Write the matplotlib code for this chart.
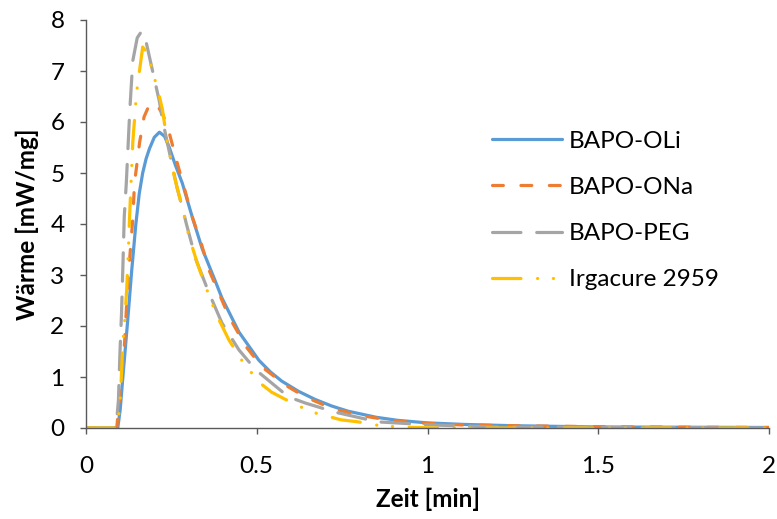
import matplotlib
matplotlib.use("Agg")
import matplotlib.pyplot as plt

# ---- data ----
labels = ["BAPO-OLi", "BAPO-ONa", "BAPO-PEG", "Irgacure 2959"]

oli_x = [0, 0.093, 0.100, 0.108, 0.122, 0.134, 0.146, 0.156, 0.166, 0.176, 0.186, 0.200,
         0.215, 0.230, 0.244, 0.262, 0.282, 0.311, 0.340, 0.381, 0.398, 0.448, 0.506,
         0.540, 0.573, 0.622, 0.671, 0.720, 0.767, 0.850, 0.913, 1.000, 1.107, 1.250,
         1.500, 2.000]
oli_y = [0, 0, 0.35, 1.0, 2.1, 3.1, 4.0, 4.6, 5.0, 5.28, 5.48, 5.70,
         5.80, 5.72, 5.50, 5.15, 4.80, 4.14, 3.52, 2.84, 2.55, 1.88, 1.33,
         1.10, 0.92, 0.72, 0.56, 0.43, 0.33, 0.21, 0.15, 0.10, 0.07, 0.045,
         0.02, 0.01]

ona_x = [0, 0.090, 0.100, 0.113, 0.122, 0.130, 0.137, 0.142, 0.157, 0.170, 0.185, 0.197,
         0.206, 0.225, 0.244, 0.267, 0.288, 0.311, 0.337, 0.360, 0.419, 0.468, 0.515,
         0.584, 0.642, 0.718, 0.800, 0.900, 1.000, 1.100, 1.300, 1.600, 2.000]
ona_y = [0, 0, 0.7, 1.67, 2.8, 3.5, 4.1, 4.8, 5.6, 6.1, 6.33, 6.38,
         6.35, 6.15, 5.78, 5.20, 4.70, 4.14, 3.63, 3.10, 2.18, 1.60, 1.20,
         0.84, 0.61, 0.39, 0.25, 0.14, 0.09, 0.06, 0.04, 0.02, 0.01]

peg_x = [0, 0.088, 0.095, 0.099, 0.104, 0.108, 0.112, 0.118, 0.128, 0.137, 0.150, 0.163,
         0.175, 0.186, 0.200, 0.215, 0.224, 0.238, 0.267, 0.282, 0.294, 0.322, 0.360,
         0.398, 0.448, 0.497, 0.593, 0.642, 0.730, 0.855, 1.010, 1.200, 1.500, 2.000]
peg_y = [0, 0, 0.55, 1.4, 2.25, 3.16, 4.14, 4.8, 6.2, 7.2, 7.65, 7.78,
         7.60, 7.27, 6.85, 6.40, 6.04, 5.60, 4.70, 4.33, 4.00, 3.30, 2.65,
         2.06, 1.53, 1.14, 0.61, 0.49, 0.31, 0.12, 0.06, 0.02, 0.01, 0.0]

irg_x = [0, 0.090, 0.099, 0.104, 0.108, 0.113, 0.119, 0.123, 0.128, 0.137, 0.148, 0.166,
         0.180, 0.195, 0.215, 0.224, 0.238, 0.259, 0.279, 0.302, 0.326, 0.340, 0.380,
         0.419, 0.456, 0.506, 0.544, 0.587, 0.630, 0.674, 0.747, 0.797, 0.846, 0.913,
         1.030, 2.000]
irg_y = [0, 0, 0.4, 1.08, 1.67, 2.06, 2.7, 3.3, 4.2, 5.6, 6.57, 7.47,
         7.35, 7.00, 6.50, 6.24, 5.60, 4.92, 4.40, 3.75, 3.23, 2.96, 2.25,
         1.72, 1.33, 0.90, 0.70, 0.55, 0.41, 0.29, 0.16, 0.12, 0.06, 0.02,
         0.0, 0.0]

x_ticks = [0, 0.5, 1, 1.5, 2]
x_tick_labels = ["0", "0.5", "1", "1.5", "2"]
y_ticks = [0, 1, 2, 3, 4, 5, 6, 7, 8]

# ---- figure ----
W, H = 777, 519
FS = 17.5
plt.rcParams['font.family'] = ['Lato', 'DejaVu Sans']
fig = plt.figure(figsize=(W / 100, H / 100), dpi=100)
ax = fig.add_axes([86 / W, 1 - 428 / H, (769 - 86) / W, (428 - 20) / H])

lw = 2.3
axis_col = "#595959"
ax.plot(oli_x, oli_y, color="#5B9BD5", lw=lw, solid_capstyle='round',
        solid_joinstyle='round', label=labels[0])
ax.plot(ona_x, ona_y, color="#ED7D31", lw=lw, dashes=(3.4, 5.5),
        dash_capstyle='round', label=labels[1])
ax.plot(peg_x, peg_y, color="#A5A5A5", lw=lw, dashes=(8.9, 4.95),
        dash_capstyle='round', label=labels[2])
ax.plot(irg_x, irg_y, color="#FFC000", lw=lw,
        dashes=(8.9, 5.2, 0.05, 4.9, 0.05, 5.2),
        dash_capstyle='round', label=labels[3])

ax.set_xlim(0, 2)
ax.set_ylim(0, 8)
ax.set_xticks(x_ticks)
ax.set_xticklabels(x_tick_labels)
ax.set_yticks(y_ticks)

for s in ["top", "right"]:
    ax.spines[s].set_visible(False)
for s in ["left", "bottom"]:
    ax.spines[s].set_color(axis_col)
    ax.spines[s].set_linewidth(1.0)
ax.tick_params(axis='both', direction='out', length=4.5, width=1.0,
               color=axis_col, labelsize=FS, labelcolor='black')
ax.tick_params(axis='x', pad=16)
ax.tick_params(axis='y', pad=11)

ax.set_xlabel("Zeit [min]", fontsize=FS, fontweight='bold', labelpad=7)
ax.set_ylabel("Wärme [mW/mg]", fontsize=FS, fontweight='bold', labelpad=8)

leg = ax.legend(loc='center left', bbox_to_anchor=(492 / W, 1 - 210.5 / H),
                bbox_transform=fig.transFigure, frameon=False, fontsize=FS,
                handlelength=2.88, handletextpad=0.29, labelspacing=1.03,
                borderpad=0, borderaxespad=0)

fig.savefig("out.png", dpi=100)
